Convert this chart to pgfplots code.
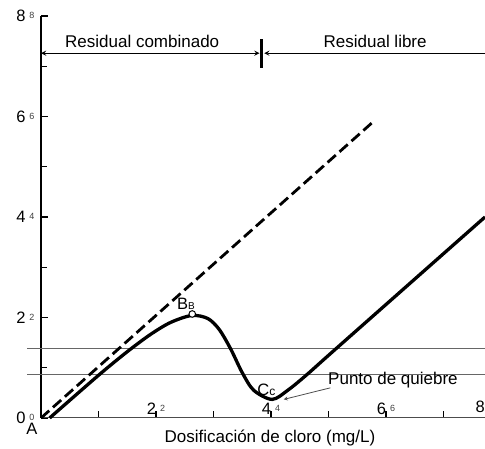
\documentclass[border=0pt]{standalone}
\usepackage{pgfplots}
\pgfplotsset{compat=1.18}
\usepackage{fontspec}
\setmainfont{Liberation Sans}
\newcommand{\dup}[1]{#1\hspace{4pt}\raisebox{3pt}{\fontsize{9}{9}\selectfont\color{black!75}#1}}
\begin{document}
\begin{tikzpicture}
\begin{axis}[
  scale only axis, width=444pt, height=402pt,
  xmin=0, xmax=7.72, ymin=0, ymax=8,
  axis x line*=bottom, axis y line*=left,
  x axis line style={line width=1pt, black!70},
  y axis line style={line width=1.6pt},
  clip=false,
  xtick={1,2,3,4,5,6,7},
  xticklabels={,\dup{2},,\dup{4},,\dup{6},},
  ytick={0,2,4,6,8},
  yticklabels={\dup{0},\dup{2},\dup{4},\dup{6},\dup{8}},
  minor ytick={1,3,5,7},
  tick align=inside,
  major tick length=7pt, minor tick length=6pt,
  every tick/.style={line width=1.2pt, black},
  tick label style={font=\fontsize{16.5}{18}\selectfont},
  xticklabel style={anchor=south, yshift=0pt},
  yticklabel style={xshift=-3pt},
  /pgf/number format/assume math mode=true,
]
\coordinate (BL) at (rel axis cs:0,0);
% reference horizontal lines
\addplot[black!60, line width=0.8pt] coordinates {(-0.24,1.39) (7.72,1.39)};
\addplot[black!60, line width=0.8pt] coordinates {(-0.24,0.87) (7.72,0.87)};
% dashed line
\addplot[black, line width=2.8pt, dash pattern=on 11pt off 5pt] coordinates {(0,0) (5.79,5.91)};
% breakpoint curve
\addplot[black, line width=3.3pt, smooth, tension=0.5] coordinates {
(0.15,0) (1.0,0.85) (1.5,1.32) (1.9,1.66) (2.25,1.9) (2.62,2.04)
(2.9,1.98) (3.1,1.76) (3.3,1.37) (3.5,0.9) (3.7,0.55)
(4.02,0.37) (4.3,0.56) (4.63,0.87) (5.15,1.40) (7.72,4.00)};
\addplot[only marks, mark=*, mark size=3.3pt, mark options={fill=white, draw=black, line width=1pt}] coordinates {(2.63,2.07)};
% zone arrows
\draw[<->, >=stealth, line width=1.3pt] (axis cs:0,7.26) -- (axis cs:3.80,7.26);
\draw[<-, >=stealth, line width=1.3pt] (axis cs:3.88,7.26) -- (axis cs:7.72,7.26);
\draw[line width=3.2pt] (axis cs:3.84,6.97) -- (axis cs:3.84,7.54);
\node[font=\fontsize{17}{20}\selectfont] at (axis cs:1.76,7.50) {Residual combinado};
\node[font=\fontsize{17}{20}\selectfont] at (axis cs:5.81,7.50) {Residual libre};
% point labels
\node[font=\fontsize{16.5}{18}\selectfont] at (axis cs:2.52,2.28) {B{\fontsize{10}{10}\selectfont B}};
\node[font=\fontsize{16.5}{18}\selectfont] at (axis cs:3.92,0.57) {C{\fontsize{12}{12}\selectfont c}};
\node[font=\fontsize{16.5}{18}\selectfont] at (axis cs:-0.16,-0.21) {A};
\node[font=\fontsize{17}{20}\selectfont] at (axis cs:6.12,0.76) {Punto de quiebre};
\draw[->, >=stealth, black!70, line width=0.8pt] (axis cs:5.03,0.60) -- (axis cs:4.22,0.37);
\node[font=\fontsize{16.5}{18}\selectfont, anchor=south east, inner sep=0pt] at (axis cs:7.72,0.1) {8};
\node[font=\fontsize{17}{20}\selectfont] at (axis cs:3.98,-0.40) {Dosificación de cloro (mg/L)};
\end{axis}
\pgfresetboundingbox
\path[use as bounding box] (BL) ++(-41pt,-31pt) rectangle ++(485pt,449pt);
\end{tikzpicture}
\end{document}
